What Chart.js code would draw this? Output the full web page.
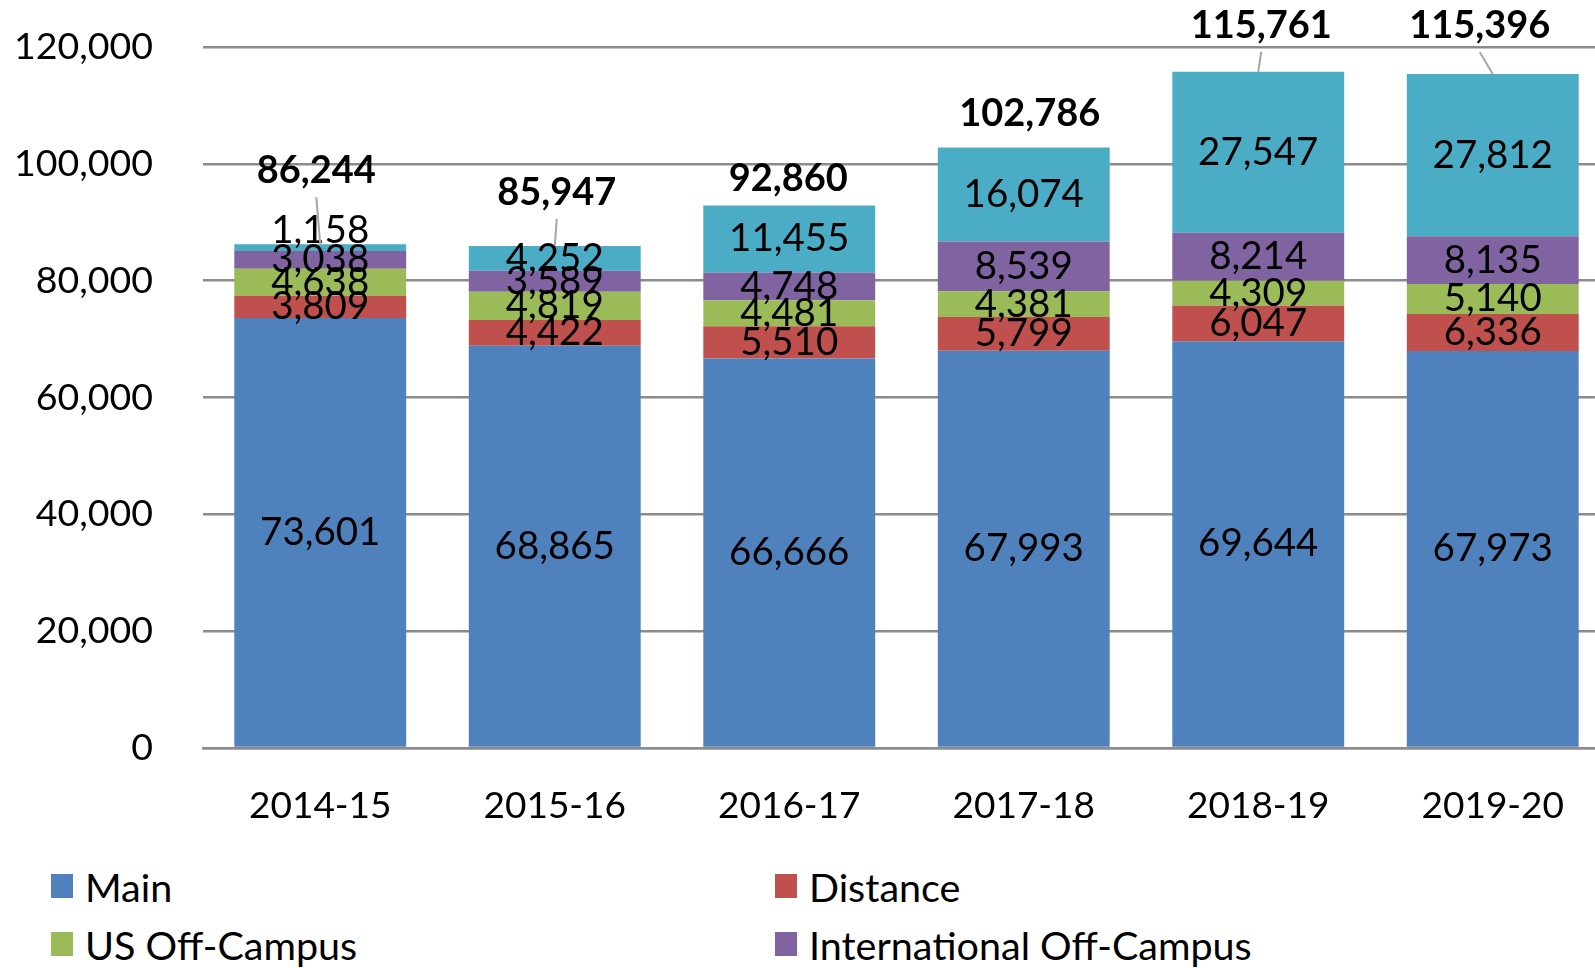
<!DOCTYPE html>
<html>
<head>
<meta charset="utf-8">
<script src="https://cdn.jsdelivr.net/npm/chart.js@4.4.1/dist/chart.umd.min.js"></script>
<style>
    html, body { margin: 0; padding: 0; background: #fff; }
    #frame { position: relative; width: 1595px; height: 968px; overflow: hidden; }
    #wrap { position: absolute; left: 0; top: 0; width: 1610px; height: 840px; }
    #legend {
        position: absolute; left: 51px; top: 866px; width: 1500px;
        display: grid; grid-template-columns: 724px 724px; row-gap: 18px;
        font-family: Lato, sans-serif; font-size: 39.5px; color: #000;
    }
    #legend .item { display: flex; align-items: center; height: 40px; }
    #legend .box { width: 22px; height: 24px; margin-right: 12px; }
</style>
</head>
<body>
<div id="frame">
    <div id="wrap"><canvas id="chart" width="1610" height="840"></canvas></div>
    <div id="legend"></div>
</div>
<script>
const years = ["2014-15", "2015-16", "2016-17", "2017-18", "2018-19", "2019-20"];
const mainCampus = [73601, 68865, 66666, 67993, 69644, 67973];
const distance = [3809, 4422, 5510, 5799, 6047, 6336];
const usOffCampus = [4638, 4819, 4481, 4381, 4309, 5140];
const intlOffCampus = [3038, 3589, 4748, 8539, 8214, 8135];
const online = [1158, 4252, 11455, 16074, 27547, 27812];
const totals = [86244, 85947, 92860, 102786, 115761, 115396];

// where the total labels were dragged to in the original: [dx, lift above bar]
const totalLabelPos = [[-4, 73], [2, 53], [-1, 27], [6, 34], [3, 46], [-13, 48]];

const FONT = "Lato, sans-serif";
const fmt = (v) => v.toLocaleString("en-US");

const series = [
    { label: "Main", data: mainCampus, color: "#4f81bd" },
    { label: "Distance", data: distance, color: "#c0504d" },
    { label: "US Off-Campus", data: usOffCampus, color: "#9bbb59" },
    { label: "International Off-Campus", data: intlOffCampus, color: "#8064a2" },
    { label: "Online", data: online, color: "#4bacc6" }
];

const barLabels = {
    id: "barLabels",
    afterDatasetsDraw(chart) {
        const ctx = chart.ctx;
        const yScale = chart.scales.y;
        ctx.save();
        ctx.textAlign = "center";
        ctx.textBaseline = "middle";
        ctx.fillStyle = "#000";
        ctx.font = "38.5px " + FONT;
        chart.data.datasets.forEach((ds, di) => {
            chart.getDatasetMeta(di).data.forEach((bar, i) => {
                const h = bar.base - bar.y;
                let y = (bar.y + bar.base) / 2;
                if (h < 10) {
                    y = bar.y - 14;
                }
                ctx.fillText(fmt(ds.data[i]), bar.x, y);
            });
        });

        // totals above the stacks
        const topMeta = chart.getDatasetMeta(chart.data.datasets.length - 1);
        ctx.font = "bold 38px " + FONT;
        totals.forEach((t, i) => {
            const bar = topMeta.data[i];
            const top = yScale.getPixelForValue(t);
            const lx = bar.x + totalLabelPos[i][0];
            const ly = top - totalLabelPos[i][1];
            ctx.fillStyle = "#000";
            ctx.fillText(fmt(t), lx, ly);
            if (totalLabelPos[i][1] > 40) {
                ctx.strokeStyle = "#a6a6a6";
                ctx.lineWidth = 2;
                ctx.beginPath();
                ctx.moveTo(lx, ly + 26);
                ctx.lineTo(bar.x, top);
                ctx.stroke();
            }
        });
        ctx.restore();
    }
};

function noEdgePadding(scale) {
    scale.paddingTop = 0;
    scale.paddingBottom = 0;
    scale.paddingLeft = 0;
    scale.paddingRight = 0;
}

const chart = new Chart(document.getElementById("chart"), {
    type: "bar",
    data: {
        labels: years,
        datasets: series.map((s) => ({
            label: s.label,
            data: s.data,
            backgroundColor: s.color,
            borderWidth: 0,
            categoryPercentage: 1,
            barPercentage: 0.733
        }))
    },
    options: {
        responsive: false,
        animation: false,
        devicePixelRatio: 1,
        layout: { padding: { top: 47, right: 0, bottom: 0, left: 0 } },
        plugins: {
            legend: { display: false },
            tooltip: { enabled: false }
        },
        scales: {
            x: {
                stacked: true,
                grid: { display: false, drawTicks: false },
                border: { color: "#8c8c8c", width: 2.5 },
                ticks: {
                    color: "#000",
                    padding: 36,
                    font: { family: FONT, size: 37 }
                },
                afterFit(scale) {
                    scale.height = 92;
                    noEdgePadding(scale);
                }
            },
            y: {
                stacked: true,
                min: 0,
                max: 120000,
                grid: { color: "#8c8c8c", lineWidth: 2.5, drawTicks: false },
                border: { display: false },
                ticks: {
                    stepSize: 20000,
                    color: "#000",
                    padding: 50,
                    font: { family: FONT, size: 37.5 },
                    callback: (v) => fmt(v)
                },
                afterFit(scale) {
                    scale.width = 203;
                    noEdgePadding(scale);
                }
            }
        }
    },
    plugins: [barLabels]
});

// legend in two columns, as in the original
const legendEl = document.getElementById("legend");
chart.data.datasets.forEach((ds) => {
    const item = document.createElement("div");
    item.className = "item";
    const box = document.createElement("span");
    box.className = "box";
    box.style.background = ds.backgroundColor;
    const text = document.createElement("span");
    text.textContent = ds.label;
    item.appendChild(box);
    item.appendChild(text);
    legendEl.appendChild(item);
});
</script>
</body>
</html>
